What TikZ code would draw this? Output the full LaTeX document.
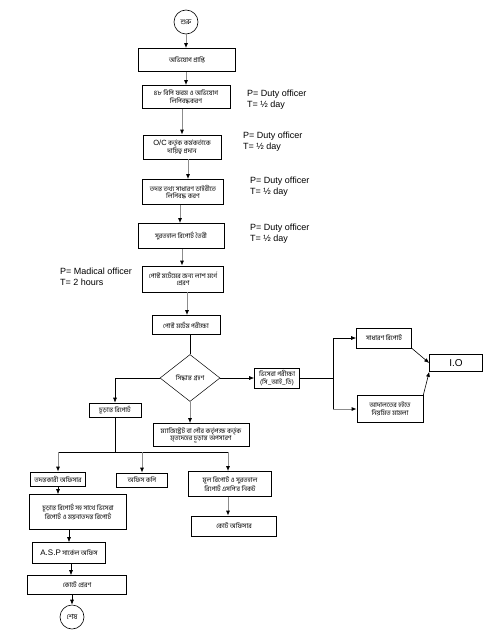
\documentclass[tikz,border=0pt]{standalone}
\usepackage{fontspec}
\setmainfont{Liberation Sans}
\newfontfamily\bn[Script=Bengali]{Hind Siliguri}
\usepackage{tikz}
\usetikzlibrary{arrows.meta,positioning,shapes.geometric}
\tikzset{
  box/.style={
    draw,
    line width=0.6pt,
    align=center,
    inner sep=1pt,
    font=\bn\fontsize{6.6}{7.6}\selectfont
  },
  decision/.style={
    draw,
    diamond,
    aspect=1.3,
    line width=0.5pt,
    inner sep=0pt,
    font=\bn\fontsize{6.6}{7.6}\selectfont
  },
  terminal/.style={
    draw,
    circle,
    line width=0.6pt,
    minimum size=24pt,
    inner sep=0pt,
    font=\bn\fontsize{7}{8}\selectfont
  },
  note/.style={
    anchor=north west,
    align=left,
    inner sep=0pt,
    font=\fontsize{9}{11}\selectfont
  },
  flow/.style={draw=black!45, line width=1pt, -{Latex[black,length=5pt,width=4pt]}},
  link/.style={draw, line width=0.6pt, -{Latex[length=5pt,width=4pt]}},
  plain/.style={draw, line width=0.6pt}
}

\begin{document}
\begin{tikzpicture}[x=1pt,y=-1pt]
  \useasboundingbox (0,0) rectangle (490,634);

  % main column
  \node[terminal] (start) at (186,22) {শুরু};
  \node[box, minimum width=97pt, minimum height=23pt] (recv) at (187,60) {অভিযোগ প্রাপ্তি};
  \node[box, minimum width=88pt, minimum height=23pt] (form) at (186,97) {৪৮ বিপি ফরম ও অভিযোগ\\লিপিবদ্ধকরণ};
  \node[box, minimum width=78pt, minimum height=24pt] (assign) at (182,147) {{\rmfamily\fontsize{7.5}{8}\selectfont O/C} কর্তৃক কর্মকর্তাকে\\দায়িত্ব প্রদান};
  \node[box, minimum width=81pt, minimum height=25pt] (diary) at (183,192) {তদন্ত তথ্য সাধারণ ডাইরীতে\\লিপিবদ্ধ করণ};
  \node[box, minimum width=86pt, minimum height=25pt] (inquest) at (181,236) {সুরতহাল রিপোর্ট তৈরী};
  \node[box, minimum width=81pt, minimum height=26pt] (morgue) at (183,279) {পোস্ট মর্টেমের জন্য লাশ মর্গে\\প্রেরণ};
  \node[box, minimum width=68pt, minimum height=19pt] (pm) at (186,325) {পোস্ট মর্টেম পরীক্ষা};
  \node[decision, minimum width=60pt, minimum height=47pt] (decide) at (190,378) {সিদ্ধান্ত গ্রহণ};

  % right branch
  \node[box, minimum width=45pt, minimum height=20pt] (viscera) at (277,378) {ভিসেরা পরীক্ষা\\(সি\_আই\_ডি)};
  \node[box, minimum width=55pt, minimum height=20pt] (general) at (384,338) {সাধারণ রিপোর্ট};
  \node[box, minimum width=66pt, minimum height=27pt] (court) at (390,409) {আদালতের হইতে\\নিয়মিত মামলা};
  \node[box, minimum width=53pt, minimum height=17pt, font=\fontsize{10}{11}\selectfont] (io) at (456,363) {I.O};
  \coordinate (split) at (333,378);

  % left and lower branches
  \node[box, minimum width=52pt, minimum height=14pt] (final) at (115,410) {চূড়ান্ত রিপোর্ট};
  \node[box, minimum width=96pt, minimum height=23pt] (magis) at (201,435) {ম্যাজিস্ট্রেট বা পৌর কর্তৃপক্ষ কর্তৃক\\মৃতদেহের চূড়ান্ত অপসারণ};
  \coordinate (bus) at (0,452);
  \node[box, minimum width=55pt, minimum height=14pt] (officer) at (58,479) {তদন্তকারী অফিসার};
  \node[box, minimum width=51pt, minimum height=14pt] (office) at (142,480) {অফিস কপি};
  \node[box, minimum width=83pt, minimum height=25pt] (orig) at (230,484) {মূল রিপোর্ট ও সুরতহাল\\রিপোর্ট এসপি'র নিকট};
  \node[box, minimum width=85pt, minimum height=20pt] (courtoff) at (234,526) {কোর্ট অফিসার};
  \node[box, minimum width=97pt, minimum height=35pt] (fullrep) at (78,512) {চূড়ান্ত রিপোর্ট সহ সাথে ভিসেরা\\রিপোর্ট ও ময়নাতদন্ত রিপোর্ট};
  \node[box, minimum width=73pt, minimum height=21pt] (asp) at (69,553) {{\rmfamily\fontsize{8}{9}\selectfont A.S.P} সার্কেল অফিস};
  \node[box, minimum width=99pt, minimum height=19pt] (sendcourt) at (77,585) {কোর্টে প্রেরণ};
  \node[terminal] (finish) at (72,617) {শেষ};

  % responsibility notes
  \node[note] (note1) at (247,90) {P= Duty officer\\T= ½ day};
  \node[note] (note2) at (243,132) {P= Duty officer\\T= ½ day};
  \node[note] (note3) at (250,177) {P= Duty officer\\T= ½ day};
  \node[note] (note4) at (250,224) {P= Duty officer\\T= ½ day};
  \node[note] (note5) at (60,268) {P= Madical officer\\T= 2 hours};

  \path[flow] (start) -- (start |- recv.north);
  \path[flow] (recv.south -| form) -- (form.north);
  \path[flow] (form.south -| assign) -- (assign.north);
  \path[flow] (assign.south -| 188,0) -- (188,0 |- diary.north);
  \path[flow] (diary.south -| 180,0) -- (180,0 |- inquest.north);
  \path[flow] (inquest.south -| 182,0) -- (182,0 |- morgue.north);
  \path[flow] (morgue.south -| 187,0) -- (187,0 |- pm.north);
  \path[plain] (pm.south -| decide) -- (decide.north);
  \path[link] (decide.east) -- (viscera.west);
  \path[link] (decide.west) -| (final.north);
  \path[flow] (decide.south) -- (decide.south |- magis.north);

  \path[plain] (viscera.east) -- (split);
  \path[link] (split) |- (general.west);
  \path[plain] (split) -- (split |- court.west);
  \path[flow] (split |- court.west) -- (court.west);
  \path[link] (general.south east) -- (io.west);
  \path[link] (court.north east) -- (io.south west);

  \path[plain] (final.south) -- (final.south |- bus);
  \path[plain] (bus -| officer) -- (bus -| 228,0);
  \path[flow] (bus -| officer) -- (officer.north);
  \path[flow] (bus -| office) -- (office.north);
  \path[flow] (bus -| 228,0) -- (228,0 |- orig.north);
  \path[flow] (orig.south -| 228,0) -- (228,0 |- courtoff.north);
  \path[link] (officer.south) -- (officer.south |- fullrep.north);
  \path[link] (fullrep.south -| asp) -- (asp.north);
  \path[link] (asp.south -| 71,0) -- (71,0 |- sendcourt.north);
  \path[link] (sendcourt.south -| finish) -- (finish.north);
\end{tikzpicture}
\end{document}
